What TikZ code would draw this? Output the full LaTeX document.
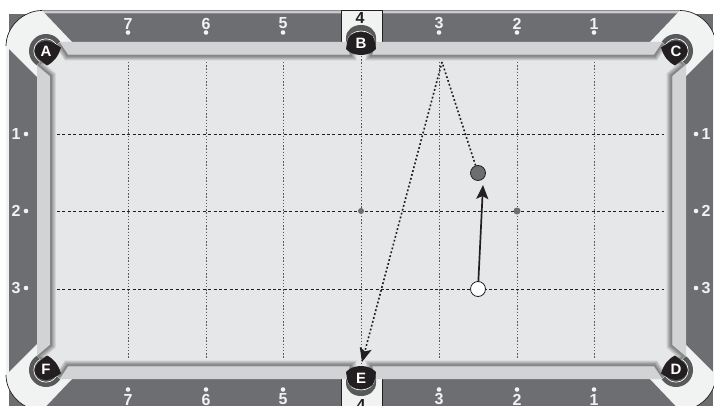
\documentclass[tikz,border=0pt]{standalone}
\usepackage{fontspec}
\setmainfont{Liberation Sans}
\usetikzlibrary{arrows.meta}
\definecolor{rail}{HTML}{6D6E71}
\definecolor{plate}{HTML}{F1F2F2}
\definecolor{cushion}{HTML}{D1D3D4}
\definecolor{felt}{HTML}{E6E7E8}
\definecolor{ink}{HTML}{231F20}
\definecolor{ringgray}{HTML}{58595B}
\tikzset{
  cornerA/.style={shift={(46,51)}},
  cornerC/.style={shift={(676,51)},xscale=-1},
  cornerD/.style={shift={(676,370)},xscale=-1,yscale=-1},
  cornerF/.style={shift={(46,370)},yscale=-1},
  sideB/.style={shift={(361,43)}},
  sideE/.style={shift={(361,378)},yscale=-1},
  railnum/.style={text=plate,font=\fontsize{16}{16}\selectfont\bfseries,inner sep=0pt},
  sidenum/.style={text=ink,font=\fontsize{16}{16}\selectfont\bfseries,inner sep=0pt},
  pocketlab/.style={text=white,font=\fontsize{15}{15}\selectfont\bfseries,inner sep=0pt},
  numdot/.style={circle,fill=plate,minimum size=4.6pt,inner sep=0pt},
  gridv/.style={draw=ringgray,line width=.9pt,dash pattern=on 1.4pt off 1.8pt},
  gridh/.style={draw=ink,line width=.7pt,dash pattern=on 3pt off 2.4pt},
  railball/.style={circle,draw=ink,line width=.8pt,minimum size=15pt,inner sep=0pt},
  shot/.style={draw=ink,line width=1.6pt,dash pattern=on 1.8pt off 2.2pt},
  bighead/.style={-{Stealth[length=14pt,width=12pt,inset=3pt]}},
}
\newcommand{\feltpath}{(60,43) -- (68,55) -- (350,55) -- (348,45) -- (374,45) -- (372,55) -- (654,55) -- (662,43) -- (685,65) -- (672,76) -- (672,345) -- (685,356) -- (662,378) -- (654,366) -- (372,366) -- (374,376) -- (348,376) -- (350,366) -- (68,366) -- (60,378) -- (37,356) -- (50,345) -- (50,76) -- (37,65) -- cycle}
\newcommand{\cornerback}[1]{%
  \begin{scope}[#1]
    \fill[plate] (-4,-40.5) .. controls (-23,-40.5) and (-40,-24) .. (-40,-5) -- (-9,26) -- (26,-9) -- cycle;
    \draw[ink,line width=.7pt] (-4,-40.5) .. controls (-23,-40.5) and (-40,-24) .. (-40,-5);
    \fill[ringgray] (0,0) circle[radius=17];
    \draw[white,line width=.6pt] (0,0) circle[radius=12.2];
  \end{scope}}
\newcommand{\cornerblack}[1]{%
  \fill[ink,#1] (15,-3.5) .. controls (12.5,5) and (8,11) .. (1,14.5) .. controls (-4,11) and (-11.5,5) .. (-11.5,0) .. controls (-11.5,-6) and (-6,-10) .. (0,-10) .. controls (5,-10) and (10,-6.5) .. (15,-3.5) -- cycle;}
\newcommand{\sideback}[1]{%
  \begin{scope}[#1]
    \fill[ringgray] (-15,2) -- (-15,-5) .. controls (-15,-13) and (-8,-18) .. (0,-18) .. controls (8,-18) and (15,-13) .. (15,-5) -- (15,2) -- cycle;
    \draw[white,line width=.6pt] (-14,-1) .. controls (-13,-8) and (-7,-12) .. (0,-12) .. controls (7,-12) and (13,-8) .. (14,-1);
  \end{scope}}
\newcommand{\sideblack}[1]{%
  \fill[ink,#1] (-13.5,-3) .. controls (-12.5,-8) and (-7,-11) .. (0,-11) .. controls (7,-11) and (12.5,-8) .. (13.5,-3) -- (15,6) .. controls (8,14) and (-8,14) .. (-15,6) -- cycle;}
\begin{document}
\begin{tikzpicture}[x=1pt,y=-1pt]
\useasboundingbox (0,0) rectangle (714,406);
\clip (0,0) rectangle (714,406);
\fill[white] (0,0) rectangle (714,406);
% frame and rails
\fill[ringgray!70] (40,10) rectangle (682,14);
\fill[plate!70!rail] (40,11) rectangle (682,13);
\draw[ink,line width=.7pt] (6,46) -- (6,375);
\draw[ink,line width=.7pt] (716,46) -- (716,375);
\fill[plate] (6.4,46) rectangle (9,375);
\fill[plate] (713,46) rectangle (716,375);
\fill[rail] (9,14) rectangle (713,410);
% centre plates
\fill[plate] (341,11) rectangle (382,42);
\fill[plate] (341,379) rectangle (382,410);
\draw[ink,line width=.6pt] (341,42) -- (341,10.5) -- (382,10.5) -- (382,42);
\draw[ink,line width=.6pt] (341,379) -- (341,410);
\draw[ink,line width=.6pt] (382,379) -- (382,410);
\foreach \c in {cornerA,cornerC,cornerD,cornerF} {\cornerback{\c}}
\sideback{sideB}
\sideback{sideE}
% cushion
\fill[cushion] (60,42) -- (347,42) -- (347,48) -- (376,48) -- (376,42) -- (662,42) -- (686,65) -- (686,356) -- (662,379) -- (376,379) -- (376,373) -- (347,373) -- (347,379) -- (60,379) -- (37,356) -- (37,65) -- cycle;
% felt with inner shadow
\fill[felt] \feltpath;
\begin{scope}
  \clip \feltpath;
  \draw[felt!88!black,line width=11pt] \feltpath;
  \draw[felt!78!black,line width=8.5pt] \feltpath;
  \draw[felt!68!black,line width=6pt] \feltpath;
  \draw[felt!58!black,line width=3.5pt] \feltpath;
\end{scope}
% grid
\foreach \x/\n in {128/a,206/b,283/c,439/d,517/e,594/f} {
  \coordinate (v\n t) at (\x,62);
  \coordinate (v\n b) at (\x,358);
  \draw[gridv] (v\n t) -- (v\n b);
}
\coordinate (vmt) at (361,56);
\coordinate (vmb) at (361,364);
\draw[gridv] (vmt) -- (vmb);
\foreach \y/\n in {134/a,211/b,289/c} {
  \coordinate (h\n l) at (57,\y);
  \coordinate (h\n r) at (664,\y);
  \draw[gridh] (h\n l) -- (h\n r);
}
\node[circle,fill=rail,minimum size=6pt,inner sep=0pt] (spotL) at (361,211) {};
\node[circle,fill=rail,minimum size=7pt,inner sep=0pt] (spotR) at (517,211) {};
% pockets
\foreach \c in {cornerA,cornerC,cornerD,cornerF} {\cornerblack{\c}}
\sideblack{sideB}
\sideblack{sideE}
\node[pocketlab] (A) at (46,51) {A};
\node[pocketlab] (B) at (361,43.5) {B};
\node[pocketlab] (C) at (676,51) {C};
\node[pocketlab] (D) at (676,369.5) {D};
\node[pocketlab] (E) at (361,378) {E};
\node[pocketlab] (F) at (46,369.5) {F};
% rail numbers
\foreach \x/\t/\n in {128/7/a,206/6/b,283/5/c,439/3/d,517/2/e,594/1/f} {
  \node[railnum] (top\n) at (\x,23.5) {\t};
  \node[numdot] (topdot\n) at (\x,32.5) {};
  \node[railnum] (bot\n) at (\x,399.5) {\t};
  \node[numdot] (botdot\n) at (\x,389.5) {};
}
\node[sidenum] (top4) at (360,18) {4};
\node[sidenum] (bot4) at (361,405) {4};
\foreach \y/\t/\n in {134/1/a,211/2/b,288/3/c} {
  \node[railnum] (left\n) at (16,\y) {\t};
  \node[numdot] (leftdot\n) at (26,\y) {};
  \node[railnum] (right\n) at (706,\y) {\t};
  \node[numdot] (rightdot\n) at (696,\y) {};
}
% balls and shots
\node[railball,fill=rail] (object) at (478,173) {};
\node[railball,fill=white] (cue) at (478,289) {};
\coordinate (hit) at (483,185);
\coordinate (bounce) at (442,62);
\coordinate (target) at (362,362);
\draw[ink,line width=1.7pt,bighead] (cue) -- (hit);
\draw[shot] (object) -- (bounce);
\draw[shot,bighead] (bounce) -- (target);
\end{tikzpicture}
\end{document}
